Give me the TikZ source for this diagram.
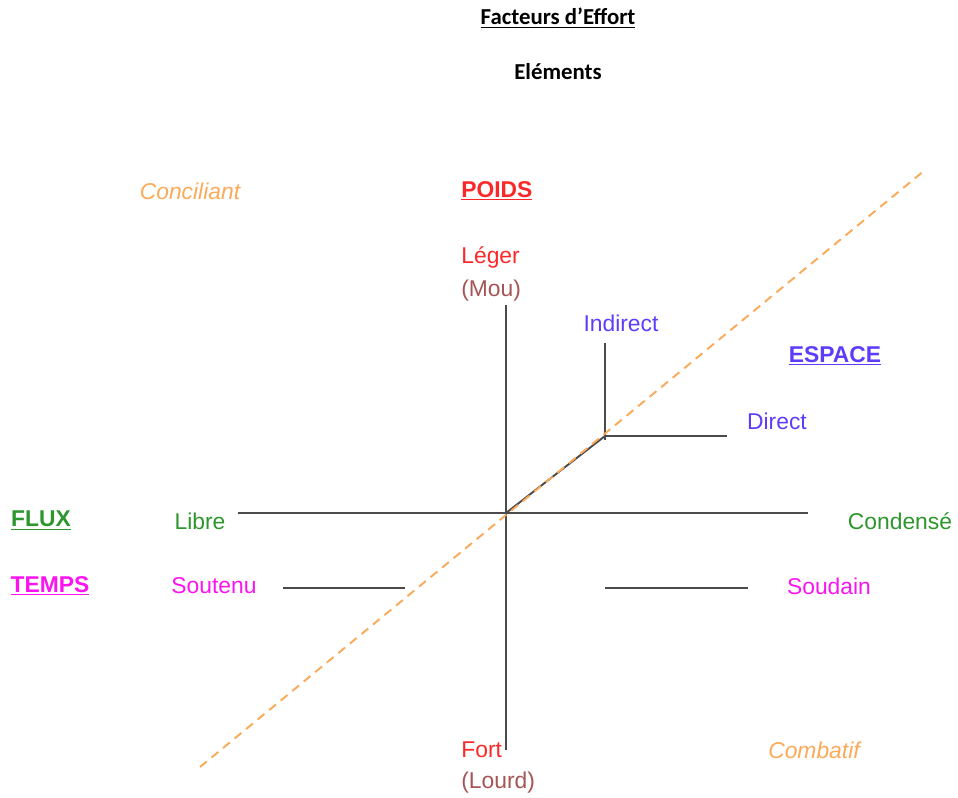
\documentclass[tikz,border=0pt]{standalone}
\usepackage{fontspec}
\setmainfont{Liberation Sans}
\newfontfamily\titlefont{Carlito}
\usetikzlibrary{positioning}

\definecolor{poidsRed}{RGB}{250,40,40}
\definecolor{mouBrown}{RGB}{165,85,85}
\definecolor{espaceBlue}{RGB}{95,60,250}
\definecolor{fluxGreen}{RGB}{45,150,45}
\definecolor{tempsPink}{RGB}{250,20,240}
\definecolor{diagOrange}{RGB}{250,170,90}
\definecolor{axisGray}{RGB}{75,75,75}

\def \lineWidth {1.1pt}

\tikzset{
  lbl/.style={inner sep=0pt, font=\fontsize{13}{15}\selectfont},
  head/.style={lbl, font=\fontsize{13}{15}\selectfont\bfseries},
  axisline/.style={draw=axisGray, line width=\lineWidth},
}

\begin{document}
\begin{tikzpicture}[x=0.02cm, y=-0.02cm]
   \useasboundingbox (0,0) rectangle (958,798);

   % titre
   \node[lbl, font=\titlefont\fontsize{13}{15}\selectfont\bfseries] (titre) at (558,18) {\underline{Facteurs d’Effort}};
   \node[lbl, font=\titlefont\fontsize{13}{15}\selectfont\bfseries] (elements) at (558,72) {Eléments};

   % axes
   \coordinate (O) at (506,513);
   \coordinate (poidsTop) at (506,305);
   \coordinate (poidsBot) at (506,750);
   \coordinate (fluxL) at (238,513);
   \coordinate (fluxR) at (808,513);
   \coordinate (espC) at (605,436);
   \coordinate (espUp) at (605,343);
   \coordinate (espR) at (727,436);
   \coordinate (tempsLa) at (283,588);
   \coordinate (tempsLb) at (405,588);
   \coordinate (tempsRa) at (605,588);
   \coordinate (tempsRb) at (748,588);
   \coordinate (diagA) at (200,767);
   \coordinate (diagB) at (925,170);

   \draw[axisline] (poidsTop) -- (poidsBot);
   \draw[axisline] (fluxL) -- (fluxR);
   \draw[axisline] (O) -- (espC);
   \draw[axisline] (espUp) -- ([yshift=-2]espC |- espR) ;
   \draw[axisline] (espC) -- (espR);
   \draw[axisline] (tempsLa) -- (tempsLb);
   \draw[axisline] (tempsRa) -- (tempsRb);
   \draw[diagOrange, line width=\lineWidth, dash pattern=on 5pt off 3.5pt] (diagA) -- (diagB);

   % poids
   \node[head, anchor=west, poidsRed] (poids) at (461,191) {\underline{POIDS}};
   \node[lbl, anchor=west, poidsRed] (leger) at (461,257) {Léger};
   \node[lbl, anchor=west, mouBrown] (mou) at (461,291) {(Mou)};
   \node[lbl, anchor=west, poidsRed] (fort) at (461,750) {Fort};
   \node[lbl, anchor=west, mouBrown] (lourd) at (461,783) {(Lourd)};

   % espace
   \node[head, espaceBlue] (espace) at (835,356) {\underline{ESPACE}};
   \node[lbl, espaceBlue] (indirect) at (621,323) {Indirect};
   \node[lbl, espaceBlue] (direct) at (777,421) {Direct};

   % flux
   \node[head, fluxGreen] (flux) at (41,521) {\underline{FLUX}};
   \node[lbl, fluxGreen] (libre) at (200,521) {Libre};
   \node[lbl, fluxGreen] (condense) at (900,521) {Condensé};

   % temps
   \node[head, tempsPink] (temps) at (50,586) {\underline{TEMPS}};
   \node[lbl, tempsPink] (soutenu) at (214,586) {Soutenu};
   \node[lbl, tempsPink] (soudain) at (829,586) {Soudain};

   % diagonale
   \node[lbl, diagOrange, font=\fontsize{13}{15}\selectfont\itshape] (conciliant) at (190,191) {Conciliant};
   \node[lbl, diagOrange, font=\fontsize{13}{15}\selectfont\itshape] (combatif) at (814,750) {Combatif};
\end{tikzpicture}
\end{document}
